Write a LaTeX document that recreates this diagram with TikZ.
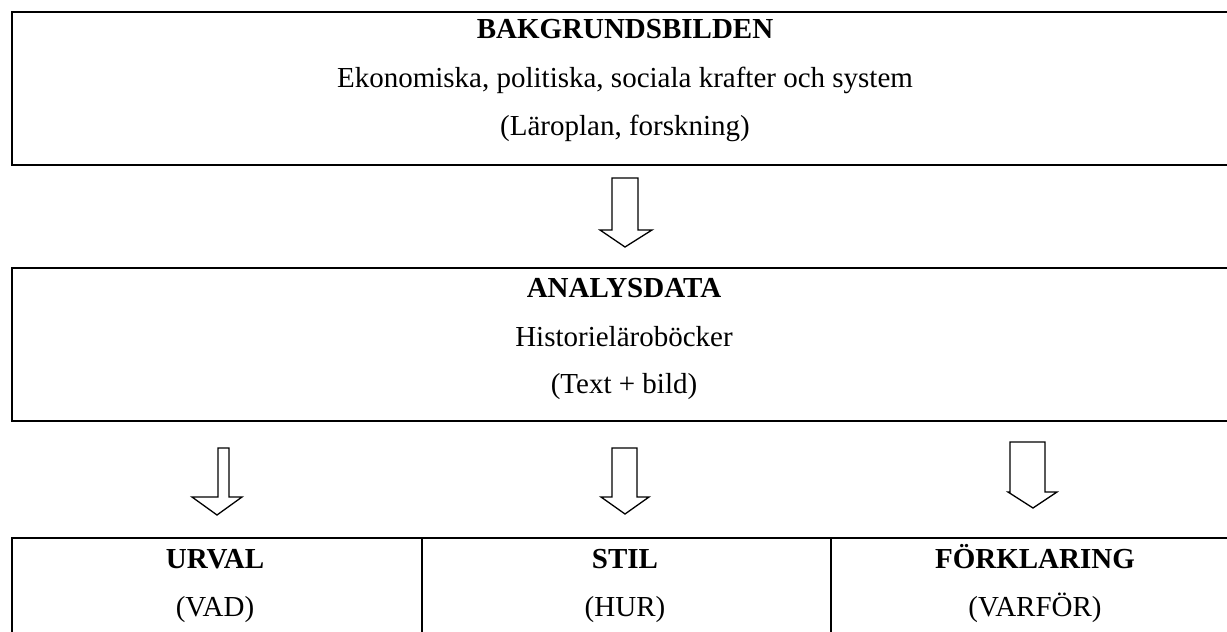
\documentclass[tikz,border=0pt]{standalone}
\usepackage{fontspec}
\setmainfont{Liberation Serif}
\begin{document}
\begin{tikzpicture}[x=1pt,y=-1pt,
  box/.style={draw=black,line width=2pt,minimum width=1229pt,minimum height=153pt,inner sep=0pt,anchor=north west},
  cell/.style={draw=black,line width=2pt,minimum width=409.5pt,minimum height=120pt,inner sep=0pt,anchor=north west},
  txt/.style={font=\fontsize{29}{32}\selectfont,inner sep=0pt,anchor=base},
  btxt/.style={txt,font=\fontsize{29}{32}\selectfont\bfseries},
  blockarrow/.style={draw=black,line width=1.3pt,fill=white,line join=miter}]
\useasboundingbox (0,0) rectangle (1227,632);
\clip (0,0) rectangle (1227,632);
% boxes
\node[box] (bak) at (11,11) {};
\node[box] (ana) at (11,267) {};
\node[cell] (urval) at (11,537) {};
\node[cell] (stil) at (420.5,537) {};
\node[cell] (fork) at (830,537) {};
% texts box 1
\node[btxt] (t1) at (625,38) {BAKGRUNDSBILDEN};
\node[txt] (t2) at (625,87) {Ekonomiska, politiska, sociala krafter och system};
\node[txt] (t3) at (625,135) {(Läroplan, forskning)};
% texts box 2
\node[btxt] (t4) at (624,297) {ANALYSDATA};
\node[txt] (t5) at (624,346) {Historieläroböcker};
\node[txt] (t6) at (624,393) {(Text + bild)};
% bottom texts
\node[btxt] (u1) at (215,568) {URVAL};
\node[txt] (u2) at (215,616) {(VAD)};
\node[btxt] (s1) at (625,568) {STIL};
\node[txt] (s2) at (625,616) {(HUR)};
\node[btxt] (f1) at (1035,568) {FÖRKLARING};
\node[txt] (f2) at (1035,616) {(VARFÖR)};
% arrows
\draw[blockarrow] (612,178) -- (638,178) -- (638,230) -- (652,230) -- (625,247) -- (600,230) -- (612,230) -- cycle;
\draw[blockarrow] (218,448) -- (229,448) -- (229,497) -- (242,497) -- (217,515) -- (192,497) -- (218,497) -- cycle;
\draw[blockarrow] (612,448) -- (637,448) -- (637,497) -- (649,497) -- (625,514) -- (601,497) -- (612,497) -- cycle;
\draw[blockarrow] (1010,442) -- (1045,442) -- (1045,492) -- (1057,492) -- (1033,508) -- (1008,492) -- (1010,492) -- cycle;
\end{tikzpicture}
\end{document}
